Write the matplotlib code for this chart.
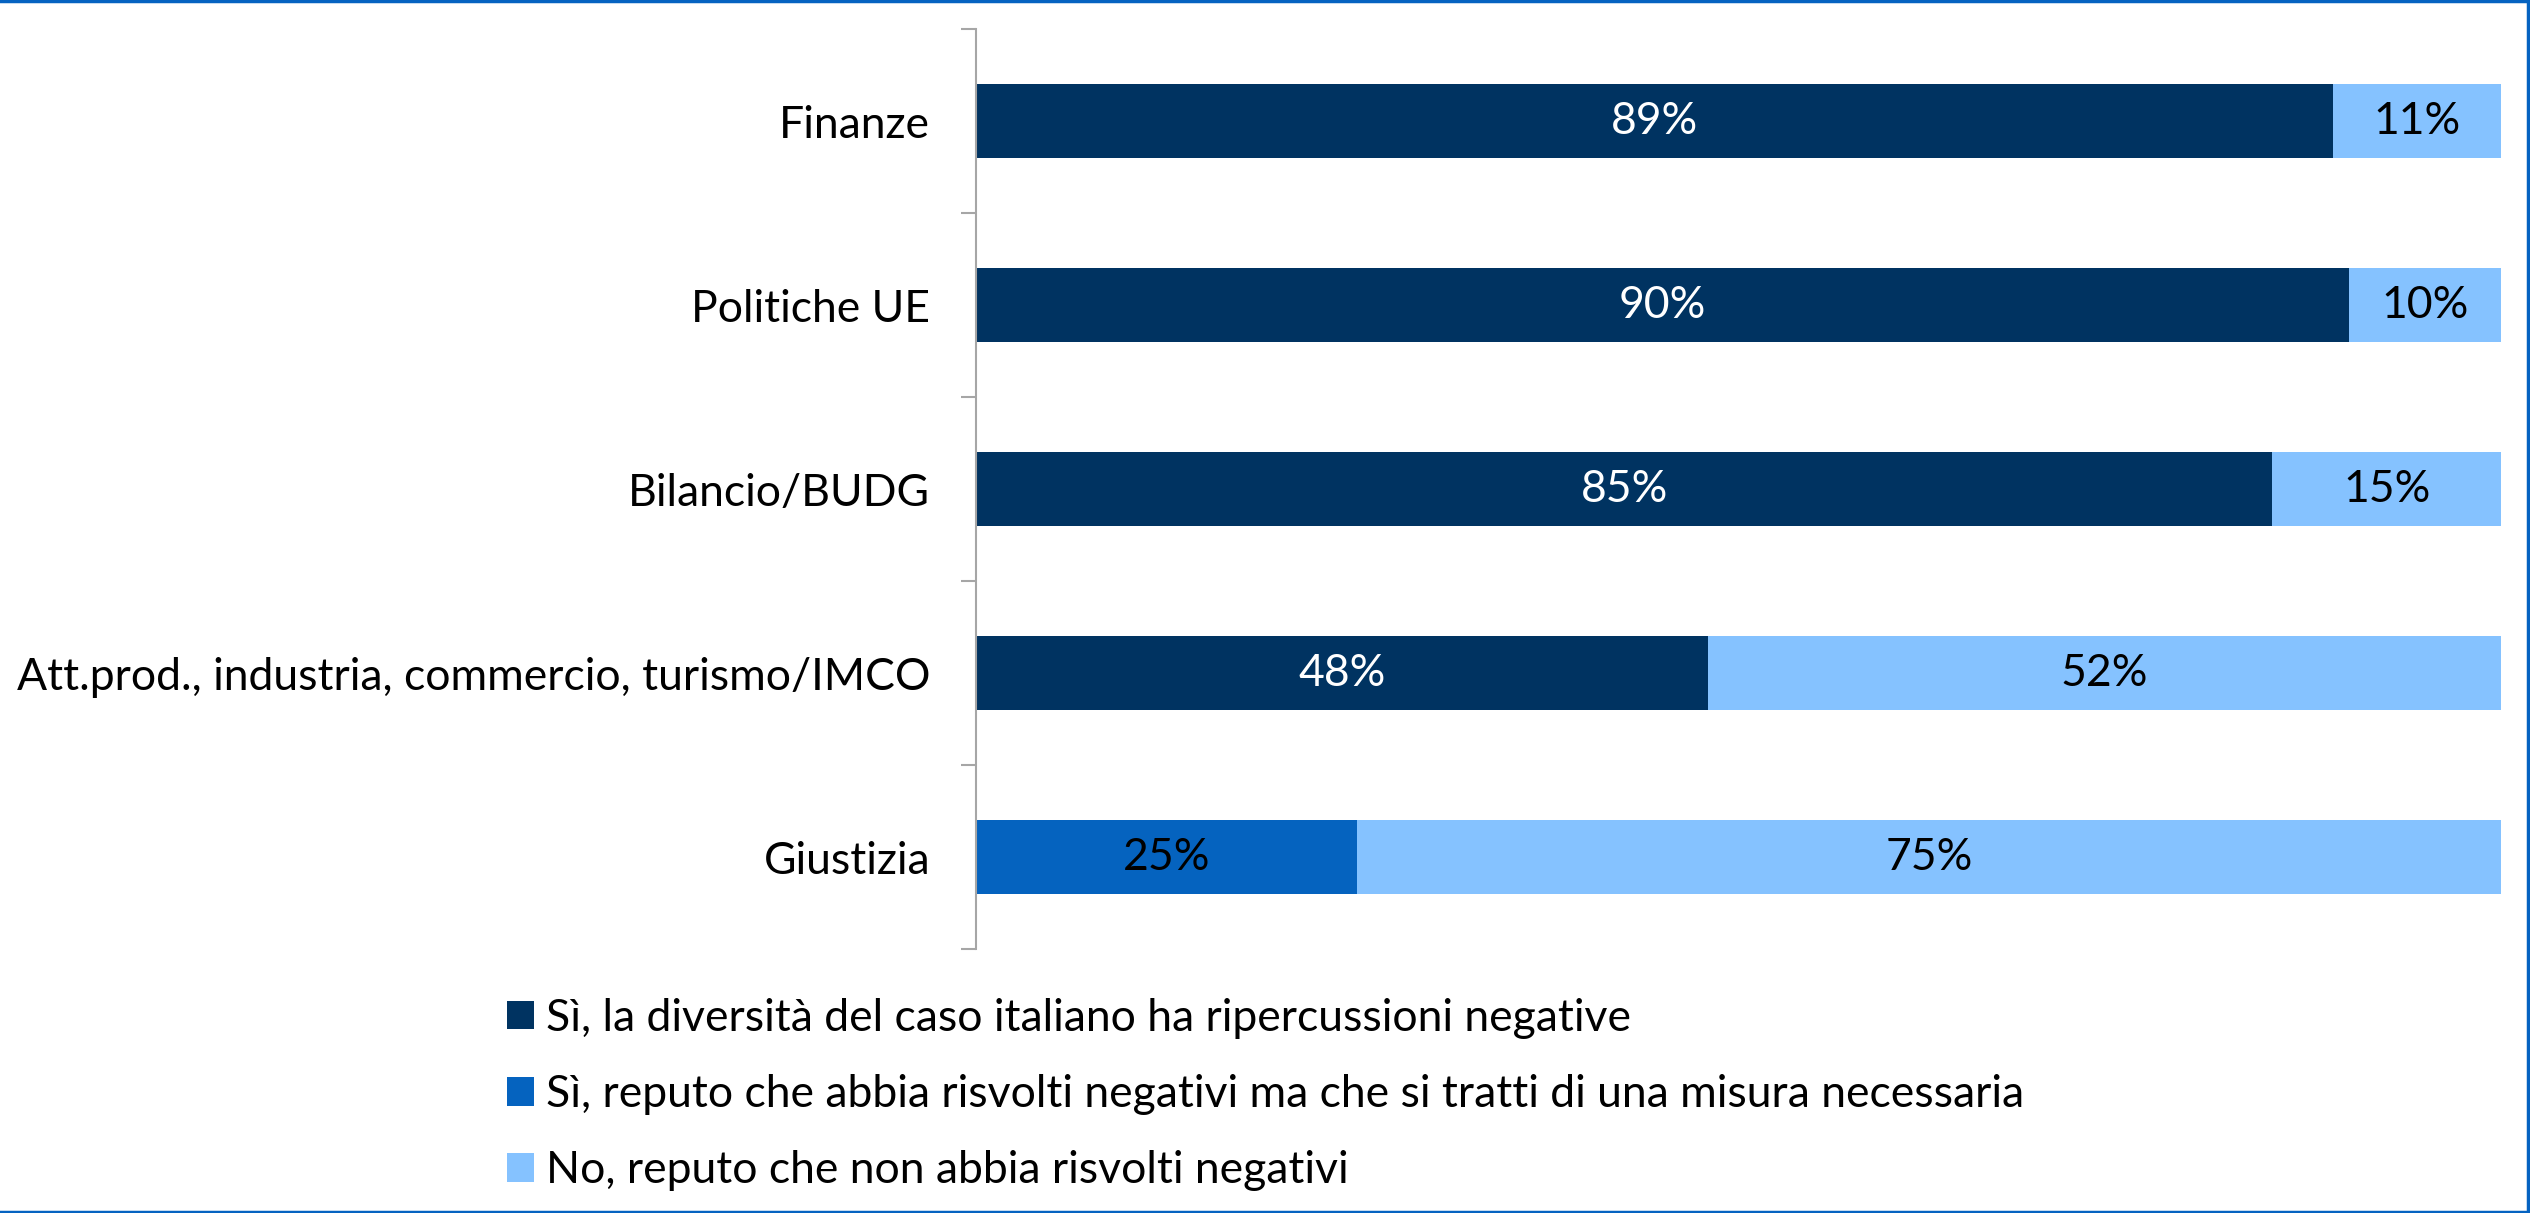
import numpy as np
import matplotlib
matplotlib.use('Agg')
import matplotlib.pyplot as plt
from matplotlib.patches import Patch
from matplotlib.lines import Line2D

plt.rcParams['font.family'] = ['Lato', 'DejaVu Sans']

categories = ['Finanze', 'Politiche UE', 'Bilancio/BUDG',
              'Att.prod., industria, commercio, turismo/IMCO', 'Giustizia']
si_negative = [89, 90, 85, 48, 0]
si_necessaria = [0, 0, 0, 0, 25]
no_negative = [11, 10, 15, 52, 75]
series_names = ['Sì, la diversità del caso italiano ha ripercussioni negative',
                'Sì, reputo che abbia risvolti negativi ma che si tratti di una misura necessaria',
                'No, reputo che non abbia risvolti negativi']
colors = ['#003361', '#0563BF', '#85C2FF']
text_colors = ['white', 'black', 'black']

FS = 32

fig = plt.figure(figsize=(25.3, 12.13), dpi=100)
ax = fig.add_axes([976 / 2530, 1 - 949 / 1213, (2501 - 976) / 2530, (949 - 29) / 1213])

y = np.arange(len(categories))
left = np.zeros(len(categories))
for vals, col, tcol in zip([si_negative, si_necessaria, no_negative], colors, text_colors):
    vals = np.array(vals, dtype=float)
    ax.barh(y, vals, left=left, height=0.4, color=col)
    for yi, (l, v) in enumerate(zip(left, vals)):
        if v > 0:
            ax.text(l + v / 2, yi, '{:.0f}%'.format(v), ha='center', va='center',
                    color=tcol, fontsize=FS)
    left += vals

ax.set_xlim(0, 100)
ax.set_ylim(len(categories) - 0.5, -0.5)
ax.set_xticks([])
for s in ['top', 'right', 'bottom']:
    ax.spines[s].set_visible(False)
ax.spines['left'].set_color('#A6A6A6')
ax.spines['left'].set_linewidth(1.5)

ax.set_yticks(np.arange(-0.5, len(categories)))
ax.set_yticklabels([])
ax.tick_params(axis='y', which='major', length=11, width=1.5, color='#A6A6A6')
ax.set_yticks(y, minor=True)
ax.set_yticklabels(categories, minor=True, fontsize=FS)
ax.tick_params(axis='y', which='minor', length=0, pad=33)

handles = [Patch(facecolor=c, edgecolor='none') for c in colors]
fig.legend(handles, series_names, loc='upper left', bbox_to_anchor=(507 / 2530, 1 - 998 / 1213),
           frameon=False, fontsize=FS, handlelength=0.6, handleheight=0.6,
           handletextpad=0.28, labelspacing=0.79, borderpad=0, borderaxespad=0)

# blue frame around the picture
for xs, ys in [([0, 1], [0.999, 0.999]), ([0.9994, 0.9994], [0, 1]), ([0, 1], [0.001, 0.001])]:
    fig.add_artist(Line2D(xs, ys, color='#0563C1', linewidth=2.5, transform=fig.transFigure))

fig.savefig('out.png', dpi=100)
